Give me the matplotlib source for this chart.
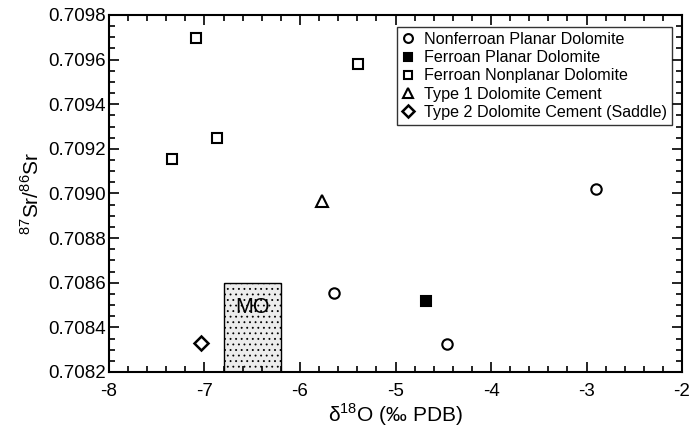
import matplotlib
matplotlib.use("Agg")
import matplotlib.pyplot as plt
from matplotlib.ticker import MultipleLocator, FormatStrFormatter
from matplotlib.patches import Rectangle

plt.rcParams['font.family'] = ['Liberation Sans', 'DejaVu Sans']
plt.rcParams['mathtext.fontset'] = 'custom'
plt.rcParams['mathtext.rm'] = 'Liberation Sans'
plt.rcParams['hatch.color'] = '#9a9a9a'
plt.rcParams['hatch.linewidth'] = 0.6

# Data
nonferroan_planar_x = [-5.64, -4.46, -2.90]
nonferroan_planar_y = [0.708552, 0.708325, 0.709022]
ferroan_planar_x = [-4.68]
ferroan_planar_y = [0.708520]
ferroan_nonplanar_x = [-7.09, -5.39, -6.87, -7.34]
ferroan_nonplanar_y = [0.709695, 0.709579, 0.709247, 0.709153]
type1_cement_x = [-5.77]
type1_cement_y = [0.708968]
type2_cement_x = [-7.04]
type2_cement_y = [0.708330]
mo_x_range = [-6.8, -6.2]
mo_y_range = [0.7082, 0.7086]

fig = plt.figure(figsize=(7.0, 4.32), dpi=100)
ax = fig.add_axes([0.1557, 0.1389, 0.8186, 0.8264])

ax.add_patch(Rectangle((mo_x_range[0], mo_y_range[0]), mo_x_range[1] - mo_x_range[0],
                       mo_y_range[1] - mo_y_range[0], facecolor='#ececec', edgecolor='black',
                       hatch='...', linewidth=1.0, zorder=1))
ax.text((mo_x_range[0] + mo_x_range[1]) / 2, 0.70849, 'MO', ha='center', va='center',
        fontsize=15.5, zorder=2)

ms = 7.5
mew = 1.5
ax.plot(nonferroan_planar_x, nonferroan_planar_y, 'o', mfc='white', mec='black', ms=ms, mew=mew,
        ls='none', label='Nonferroan Planar Dolomite', zorder=3)
ax.plot(ferroan_planar_x, ferroan_planar_y, 's', mfc='black', mec='black', ms=ms, mew=mew,
        ls='none', label='Ferroan Planar Dolomite', zorder=3)
ax.plot(ferroan_nonplanar_x, ferroan_nonplanar_y, 's', mfc='white', mec='black', ms=ms, mew=mew,
        ls='none', label='Ferroan Nonplanar Dolomite', zorder=3)
ax.plot(type1_cement_x, type1_cement_y, '^', mfc='white', mec='black', ms=ms + 1, mew=mew,
        ls='none', label='Type 1 Dolomite Cement', zorder=3)
ax.plot(type2_cement_x, type2_cement_y, 'D', mfc='white', mec='black', ms=ms - 0.5, mew=mew + 0.3,
        ls='none', label='Type 2 Dolomite Cement (Saddle)', zorder=3)

ax.set_xlim(-8, -2)
ax.set_ylim(0.7082, 0.7098)
ax.xaxis.set_major_locator(MultipleLocator(1))
ax.xaxis.set_minor_locator(MultipleLocator(0.2))
ax.yaxis.set_major_locator(MultipleLocator(0.0002))
ax.yaxis.set_minor_locator(MultipleLocator(0.00005))
ax.yaxis.set_major_formatter(FormatStrFormatter('%.4f'))
ax.xaxis.set_major_formatter(FormatStrFormatter('%d'))
ax.tick_params(which='both', direction='in', top=True, right=True, labelsize=13.5, width=1.2)
ax.tick_params(axis='y', which='major', pad=2)
ax.tick_params(axis='x', which='major', pad=8)
ax.tick_params(which='major', length=7)
ax.tick_params(which='minor', length=4)
for s in ax.spines.values():
    s.set_linewidth(1.5)

ax.set_xlabel('δ$^{18}$O (‰ PDB)', fontsize=15, labelpad=1)
ax.set_ylabel(r'$^{87}$Sr/$^{86}$Sr', fontsize=15, labelpad=4)

leg = ax.legend(loc='upper right', bbox_to_anchor=(0.9825, 0.966), borderaxespad=0,
                fontsize=11.6, frameon=True,
                fancybox=False, edgecolor='black', handlelength=0.8, handletextpad=0.6,
                borderpad=0.3, labelspacing=0.2, markerscale=0.85)
leg.get_frame().set_linewidth(1.0)

fig.savefig('out.png', dpi=100)
